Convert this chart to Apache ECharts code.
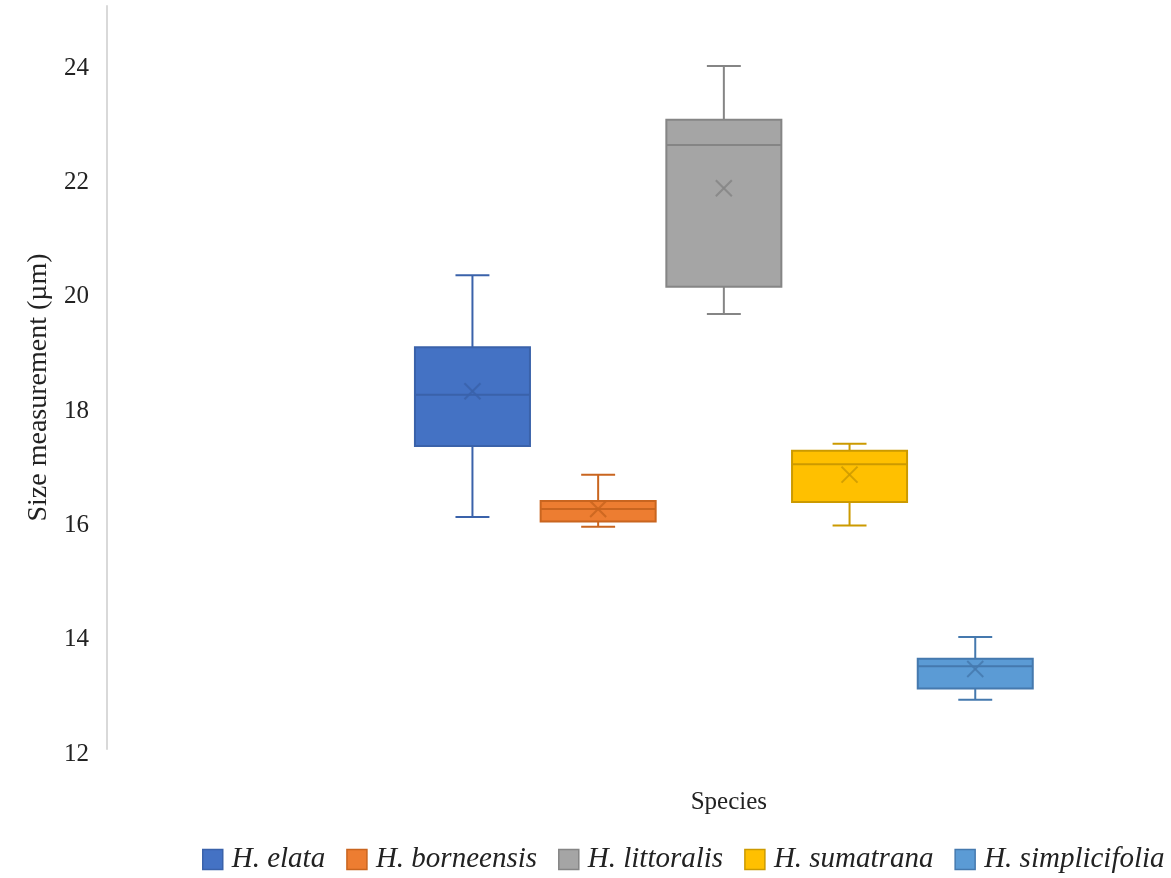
<!DOCTYPE html>
<html>
<head>
<meta charset="utf-8">
<title>Size measurement by species</title>
<script src="https://cdn.jsdelivr.net/npm/echarts@6/dist/echarts.min.js"></script>
<style>
  html, body { margin: 0; padding: 0; background: #ffffff; }
  #chart { width: 1171px; height: 878px; }
</style>
</head>
<body>
<div id="chart"></div>
<script>
// Five-number summaries (µm) plus the mean for each species
const species = ['H. elata', 'H. borneensis', 'H. littoralis', 'H. sumatrana', 'H. simplicifolia'];
const minVals    = [16.06, 15.89, 19.61, 15.91, 12.86];
const q1Vals     = [17.30, 15.98, 20.09, 16.32, 13.06];
const medianVals = [18.20, 16.20, 22.57, 16.98, 13.45];
const q3Vals     = [19.03, 16.34, 23.01, 17.22, 13.58];
const maxVals    = [20.29, 16.80, 23.95, 17.34, 13.96];
const meanVals   = [18.26, 16.20, 21.81, 16.80, 13.40];

// Value axis range
const yMin = 12;
const yMax = 25;
const yStep = 2;

const fillColors = ['#4472C4', '#ED7D31', '#A5A5A5', '#FFC000', '#5B9BD5'];
const lineColors = ['#3A62AA', '#C9651F', '#858585', '#CC9A00', '#4579AE'];

const FONT = '"Liberation Serif", "Times New Roman", serif';

function renderBox(params, api) {
  const i = params.seriesIndex;
  const stroke = lineColors[i];
  const band = api.size([1, 0])[0];
  const boxW = band * 0.915;
  const capW = band * 0.27;
  const c = api.value(0);
  const pMin = api.coord([c, api.value(1)]);
  const pQ1 = api.coord([c, api.value(2)]);
  const pMed = api.coord([c, api.value(3)]);
  const pQ3 = api.coord([c, api.value(4)]);
  const pMax = api.coord([c, api.value(5)]);
  const pMean = api.coord([c, api.value(6)]);
  const cx = pMin[0];
  const lw = 2;
  const lineStyle = { stroke: stroke, lineWidth: lw, fill: null };
  const xs = 8;
  return {
    type: 'group',
    children: [
      // upper whisker and cap
      { type: 'line', shape: { x1: cx, y1: pQ3[1], x2: cx, y2: pMax[1] }, style: lineStyle },
      { type: 'line', shape: { x1: cx - capW / 2, y1: pMax[1], x2: cx + capW / 2, y2: pMax[1] }, style: lineStyle },
      // lower whisker and cap
      { type: 'line', shape: { x1: cx, y1: pQ1[1], x2: cx, y2: pMin[1] }, style: lineStyle },
      { type: 'line', shape: { x1: cx - capW / 2, y1: pMin[1], x2: cx + capW / 2, y2: pMin[1] }, style: lineStyle },
      // interquartile box
      {
        type: 'rect',
        shape: { x: cx - boxW / 2, y: pQ3[1], width: boxW, height: pQ1[1] - pQ3[1] },
        style: { fill: fillColors[i], stroke: stroke, lineWidth: lw }
      },
      // median
      { type: 'line', shape: { x1: cx - boxW / 2, y1: pMed[1], x2: cx + boxW / 2, y2: pMed[1] }, style: lineStyle },
      // mean marker (×)
      { type: 'line', shape: { x1: cx - xs, y1: pMean[1] - xs, x2: cx + xs, y2: pMean[1] + xs }, style: { stroke: stroke, lineWidth: 2, opacity: 0.85 } },
      { type: 'line', shape: { x1: cx - xs, y1: pMean[1] + xs, x2: cx + xs, y2: pMean[1] - xs }, style: { stroke: stroke, lineWidth: 2, opacity: 0.85 } }
    ]
  };
}

const series = species.map(function (name, i) {
  return {
    name: name,
    type: 'custom',
    renderItem: renderBox,
    itemStyle: { color: fillColors[i], borderColor: lineColors[i], borderWidth: 1.5 },
    encode: { x: 0, y: [1, 2, 3, 4, 5, 6] },
    data: [[i, minVals[i], q1Vals[i], medianVals[i], q3Vals[i], maxVals[i], meanVals[i]]],
    z: 2
  };
});

const chart = echarts.init(document.getElementById('chart'), null, { renderer: 'canvas' });
chart.setOption({
  backgroundColor: '#ffffff',
  animation: false,
  textStyle: { fontFamily: FONT },
  grid: { left: 409.6, width: 628.5, top: 6, bottom: 129, containLabel: false },
  xAxis: {
    type: 'category',
    data: species,
    name: 'Species',
    nameLocation: 'middle',
    nameGap: 41,
    nameTextStyle: { fontFamily: FONT, fontSize: 25, color: '#222', padding: [0, 0, 0, 10] },
    axisLine: { show: false },
    axisTick: { show: false },
    axisLabel: { show: false },
    splitLine: { show: false }
  },
  yAxis: {
    type: 'value',
    min: yMin,
    max: yMax,
    interval: yStep,
    offset: 302.6,
    name: 'Size measurement (µm)',
    nameLocation: 'middle',
    nameGap: 51,
    nameTextStyle: { fontFamily: FONT, fontSize: 28, color: '#222', padding: [0, 20, 0, 0] },
    axisLine: { show: true, lineStyle: { color: '#D9D9D9', width: 2 } },
    axisTick: { show: false },
    splitLine: { show: false },
    axisLabel: {
      showMaxLabel: false,
      margin: 18,
      formatter: function (v) { return '{t|' + v + '}'; },
      rich: {
        t: { fontFamily: FONT, fontSize: 25, color: '#222', padding: [10, 0, 0, 0] }
      }
    }
  },
  legend: {
    left: 202,
    top: 845,
    width: 969,
    padding: 0,
    icon: 'rect',
    itemWidth: 20,
    itemHeight: 20,
    itemGap: 21,
    textStyle: { fontFamily: FONT, fontSize: 29, fontStyle: 'italic', color: '#222', padding: [0, 0, 0, 4] },
    data: species.map(function (name, i) {
      return { name: name, itemStyle: { color: fillColors[i], borderColor: lineColors[i], borderWidth: 1.5 } };
    })
  },
  series: series
});
</script>
</body>
</html>
